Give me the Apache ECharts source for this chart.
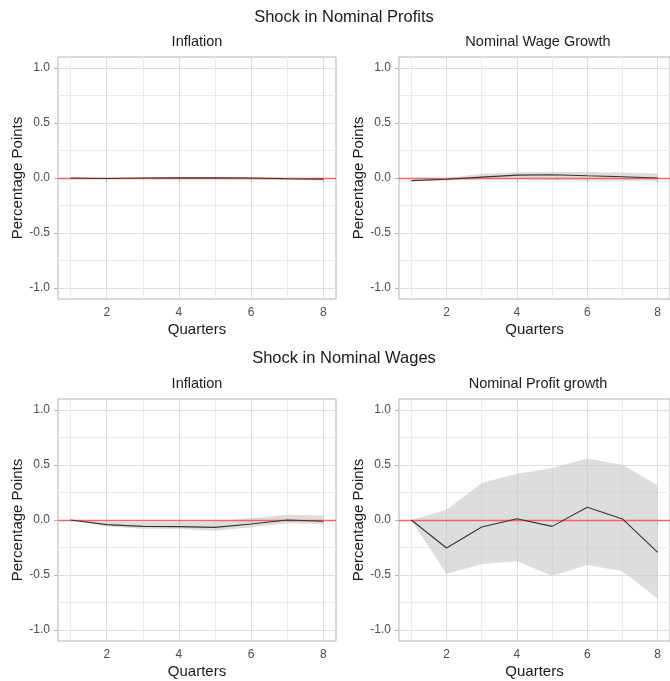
<!DOCTYPE html>
<html>
<head>
<meta charset="utf-8">
<script src="https://cdn.jsdelivr.net/npm/echarts@6/dist/echarts.min.js"></script>
<style>
  html, body { margin: 0; padding: 0; background: #fff; }
  #chart { width: 670px; height: 681px; }
</style>
</head>
<body>
<div id="chart"></div>
<script>
const quarters = [1, 2, 3, 4, 5, 6, 7, 8]
const xTicks = [2, 4, 6, 8]
const xMinor = [1, 3, 5, 7]
const yTicks = [-1, -0.5, 0, 0.5, 1]
const yMinor = [-0.75, -0.25, 0.25, 0.75]

// Shock in Nominal Profits -> Inflation
const profInflMean = [0.0, -0.005, 0.0, 0.002, 0.001, 0.0, -0.007, -0.01]
const profInflLow = [0.0, -0.01, -0.006, -0.008, -0.01, -0.014, -0.018, -0.02]
const profInflHigh = [0.0, 0.0, 0.005, 0.007, 0.006, 0.006, 0.002, 0.0]

// Shock in Nominal Profits -> Nominal Wage Growth
const profWageMean = [-0.024, -0.012, 0.008, 0.026, 0.03, 0.02, 0.012, 0.0]
const profWageLow = [-0.024, -0.022, -0.014, -0.012, -0.018, -0.022, -0.024, -0.025]
const profWageHigh = [-0.024, 0.0, 0.038, 0.052, 0.055, 0.055, 0.05, 0.04]

// Shock in Nominal Wages -> Inflation
const wageInflMean = [0.0, -0.042, -0.058, -0.06, -0.067, -0.036, 0.0, -0.012]
const wageInflLow = [0.0, -0.058, -0.08, -0.082, -0.097, -0.067, -0.03, -0.036]
const wageInflHigh = [0.0, -0.018, -0.02, -0.018, -0.012, 0.018, 0.048, 0.042]

// Shock in Nominal Wages -> Nominal Profit growth
const wageProfMean = [0.0, -0.255, -0.064, 0.012, -0.058, 0.115, 0.01, -0.294]
const wageProfLow = [0.0, -0.49, -0.4, -0.376, -0.507, -0.41, -0.467, -0.716]
const wageProfHigh = [0.0, 0.094, 0.337, 0.42, 0.47, 0.56, 0.5, 0.316]

const FONT = '"Liberation Sans", Arial, sans-serif'

const panels = [
  { title: 'Inflation', left: 58, top: 57, mean: profInflMean, low: profInflLow, high: profInflHigh },
  { title: 'Nominal Wage Growth', left: 399, top: 57, mean: profWageMean, low: profWageLow, high: profWageHigh },
  { title: 'Inflation', left: 58, top: 399, mean: wageInflMean, low: wageInflLow, high: wageInflHigh },
  { title: 'Nominal Profit growth', left: 399, top: 399, mean: wageProfMean, low: wageProfLow, high: wageProfHigh }
]
const PW = 278
const PH = 242

const grids = []
const xAxes = []
const yAxes = []
const series = []
const texts = [
  { text: 'Shock in Nominal Profits', x: 344, y: 17, size: 16.5 },
  { text: 'Shock in Nominal Wages', x: 344, y: 358, size: 16.5 }
]

// whole ribbon drawn as one polygon from the first item, reading every row
const renderBand = (params, api) => {
  if (params.dataIndexInside !== 0) return null
  const n = params.dataInsideLength
  const lower = []
  const upper = []
  for (let k = 0; k < n; k++) {
    lower.push(api.coord([api.value(0, k), api.value(1, k)]))
    upper.push(api.coord([api.value(0, k), api.value(2, k)]))
  }
  return {
    type: 'polygon',
    shape: { points: lower.concat(upper.reverse()) },
    style: { fill: '#c4c4c4', opacity: 0.58 }
  }
}

panels.forEach((p, i) => {
  texts.push({ text: p.title, x: p.left + PW / 2, y: p.top - 15, size: 14.5 })
  grids.push({
    left: p.left, top: p.top, width: PW, height: PH,
    show: true, borderColor: '#b3b3b3', borderWidth: 1, backgroundColor: 'transparent'
  })
  xAxes.push({
    gridIndex: i, type: 'value', min: 0.65, max: 8.35, position: 'bottom',
    axisLine: { show: false },
    axisTick: { show: true, customValues: xTicks, length: 4, lineStyle: { color: '#b3b3b3' } },
    axisLabel: { customValues: xTicks, color: '#4d4d4d', fontSize: 12, margin: 8, fontFamily: FONT },
    splitLine: { show: true, lineStyle: { color: '#dedede', width: 1 } },
    name: 'Quarters', nameLocation: 'middle', nameGap: 23,
    nameTextStyle: { color: '#1a1a1a', fontSize: 15, fontFamily: FONT }
  })
  xAxes.push({
    gridIndex: i, type: 'value', min: 0.65, max: 8.35, position: 'top',
    axisLine: { show: false },
    axisTick: { show: false, customValues: xMinor },
    axisLabel: { show: false, customValues: xMinor },
    splitLine: { show: true, lineStyle: { color: '#ebebeb', width: 1 } }
  })
  yAxes.push({
    gridIndex: i, type: 'value', min: -1.1, max: 1.1, position: 'left',
    axisLine: { show: false },
    axisTick: { show: true, customValues: yTicks, length: 4, lineStyle: { color: '#b3b3b3' } },
    axisLabel: {
      customValues: yTicks, color: '#4d4d4d', fontSize: 12, margin: 8, fontFamily: FONT,
      formatter: (v) => v.toFixed(1)
    },
    splitLine: { show: true, lineStyle: { color: '#dedede', width: 1 } },
    name: 'Percentage Points', nameLocation: 'middle', nameGap: 31, nameRotate: 90,
    nameTextStyle: { color: '#1a1a1a', fontSize: 15, fontFamily: FONT }
  })
  yAxes.push({
    gridIndex: i, type: 'value', min: -1.1, max: 1.1, position: 'right',
    axisLine: { show: false },
    axisTick: { show: false, customValues: yMinor },
    axisLabel: { show: false, customValues: yMinor },
    splitLine: { show: true, lineStyle: { color: '#ebebeb', width: 1 } }
  })

  const xi = i * 2
  const yi = i * 2
  series.push({
    type: 'custom', xAxisIndex: xi, yAxisIndex: yi, silent: true, z: 2,
    renderItem: renderBand,
    encode: { x: 0, y: [1, 2] },
    data: quarters.map((q, k) => [q, p.low[k], p.high[k]])
  })
  series.push({
    type: 'line', xAxisIndex: xi, yAxisIndex: yi,
    symbol: 'none', silent: true, z: 5,
    lineStyle: { color: '#333333', width: 1.1 },
    data: quarters.map((q, k) => [q, p.mean[k]]),
    markLine: {
      silent: true, symbol: 'none', label: { show: false },
      lineStyle: { color: '#ff6262', width: 1.4, type: 'solid' },
      emphasis: { disabled: true },
      data: [{ yAxis: 0 }]
    }
  })
})

const chart = echarts.init(document.getElementById('chart'))
chart.setOption({
  animation: false,
  backgroundColor: '#ffffff',
  tooltip: { show: false },
  grid: grids,
  xAxis: xAxes,
  yAxis: yAxes,
  series: series,
  graphic: texts.map((t) => ({
    type: 'text', x: t.x, y: t.y, silent: true,
    style: {
      text: t.text, fill: '#1a1a1a', font: t.size + 'px ' + FONT,
      align: 'center', verticalAlign: 'middle'
    }
  }))
})
</script>
</body>
</html>
